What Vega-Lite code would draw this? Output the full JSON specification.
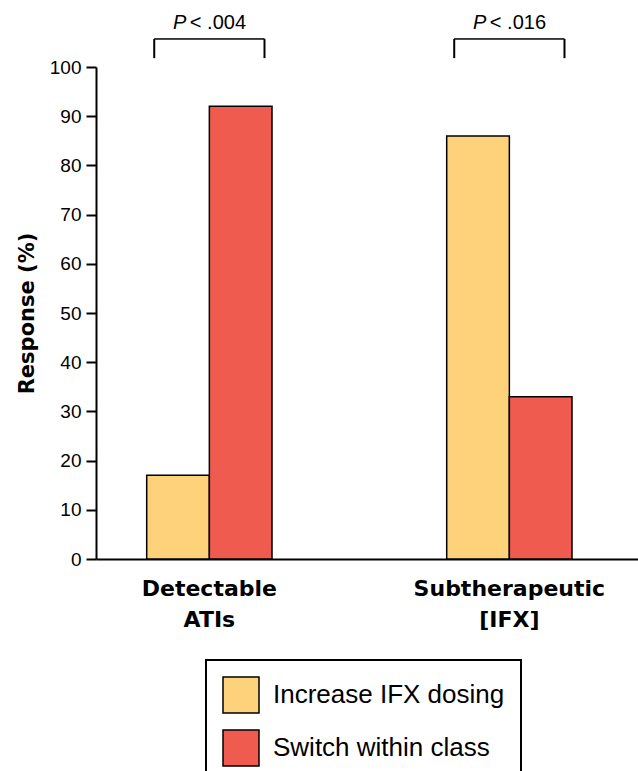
{
  "$schema": "https://vega.github.io/schema/vega-lite/v6.json",
  "autosize": "none",
  "padding": {"left": 96, "top": 67, "right": 0, "bottom": 212},
  "width": 542,
  "height": 492,
  "background": "white",
  "config": {"view": {"stroke": null}},
  "datasets": {
    "bars": [
      {"group": "Detectable ATIs", "series": "Increase IFX dosing", "value": 17},
      {"group": "Detectable ATIs", "series": "Switch within class", "value": 92},
      {"group": "Subtherapeutic [IFX]", "series": "Increase IFX dosing", "value": 86},
      {"group": "Subtherapeutic [IFX]", "series": "Switch within class", "value": 33}
    ],
    "pvals": [
      {"group": "Detectable ATIs", "p": "< .004"},
      {"group": "Subtherapeutic [IFX]", "p": "< .016"}
    ]
  },
  "encoding": {
    "x": {
      "field": "group",
      "type": "nominal",
      "sort": null,
      "scale": {"paddingInner": 0.5823, "paddingOuter": 0.1945, "align": 0.4345},
      "axis": {
        "title": null,
        "ticks": false,
        "labelAngle": 0,
        "domainColor": "black",
        "domainWidth": 2,
        "labelFont": "DejaVu Sans",
        "labelFontWeight": "bold",
        "labelFontSize": 22,
        "labelColor": "black",
        "labelPadding": 19,
        "labelLineHeight": 31,
        "labelLimit": 400,
        "labelExpr": "split(datum.label, ' ')"
      }
    }
  },
  "layer": [
    {
      "data": {"name": "bars"},
      "mark": {"type": "bar", "stroke": "black", "strokeWidth": 1.5},
      "encoding": {
        "xOffset": {"field": "series", "type": "nominal", "scale": {"paddingInner": 0, "paddingOuter": 0}},
        "y": {
          "field": "value",
          "type": "quantitative",
          "scale": {"domain": [0, 100], "nice": false},
          "axis": {
            "title": "Response (%)",
            "values": [0, 10, 20, 30, 40, 50, 60, 70, 80, 90, 100],
            "grid": false,
            "domainColor": "black",
            "domainWidth": 2,
            "tickColor": "black",
            "tickWidth": 2,
            "tickSize": 10,
            "labelFont": "Liberation Sans",
            "labelFontSize": 19,
            "labelColor": "black",
            "labelPadding": 5,
            "titleFont": "DejaVu Sans",
            "titleFontWeight": "bold",
            "titleFontSize": 21,
            "titleColor": "black",
            "titlePadding": 12
          }
        },
        "color": {
          "field": "series",
          "type": "nominal",
          "scale": {"domain": ["Increase IFX dosing", "Switch within class"], "range": ["#FDD27A", "#F05B50"]},
          "legend": {
            "title": null,
            "orient": "none",
            "legendX": 110,
            "legendY": 593,
            "symbolType": "square",
            "symbolSize": 1296,
            "symbolStrokeColor": "black",
            "symbolStrokeWidth": 1.5,
            "symbolOpacity": 1,
            "labelFont": "Liberation Sans",
            "labelFontSize": 26,
            "labelColor": "black",
            "labelOffset": 13,
            "rowPadding": 11,
            "padding": 16,
            "strokeColor": "black",
            "labelLimit": 400,
            "encode": {"legend": {"update": {"strokeWidth": {"value": 2}}}}
          }
        }
      }
    },
    {
      "data": {"name": "pvals"},
      "mark": {"type": "rule", "color": "black", "strokeWidth": 2},
      "encoding": {
        "x": {"field": "group", "type": "nominal", "bandPosition": 0.06},
        "y": {"datum": 101.8},
        "y2": {"datum": 105.7}
      }
    },
    {
      "data": {"name": "pvals"},
      "mark": {"type": "rule", "color": "black", "strokeWidth": 2},
      "encoding": {
        "x": {"field": "group", "type": "nominal", "bandPosition": 0.94},
        "y": {"datum": 101.8},
        "y2": {"datum": 105.7}
      }
    },
    {
      "data": {"name": "pvals"},
      "mark": {"type": "bar", "fill": null, "stroke": "black", "strokeWidth": 1, "width": {"band": 0.88}},
      "encoding": {
        "x": {"field": "group", "type": "nominal"},
        "y": {"datum": 105.7},
        "y2": {"datum": 105.7}
      }
    },
    {
      "data": {"name": "pvals"},
      "mark": {"type": "text", "text": "P", "font": "Liberation Sans", "fontStyle": "italic", "fontSize": 20, "color": "black", "align": "right", "baseline": "alphabetic", "dx": -23},
      "encoding": {
        "x": {"field": "group", "type": "nominal"},
        "y": {"datum": 107.7}
      }
    },
    {
      "data": {"name": "pvals"},
      "mark": {"type": "text", "font": "Liberation Sans", "fontSize": 20, "color": "black", "align": "left", "baseline": "alphabetic", "dx": -19.5},
      "encoding": {
        "x": {"field": "group", "type": "nominal"},
        "y": {"datum": 107.7},
        "text": {"field": "p"}
      }
    }
  ]
}
